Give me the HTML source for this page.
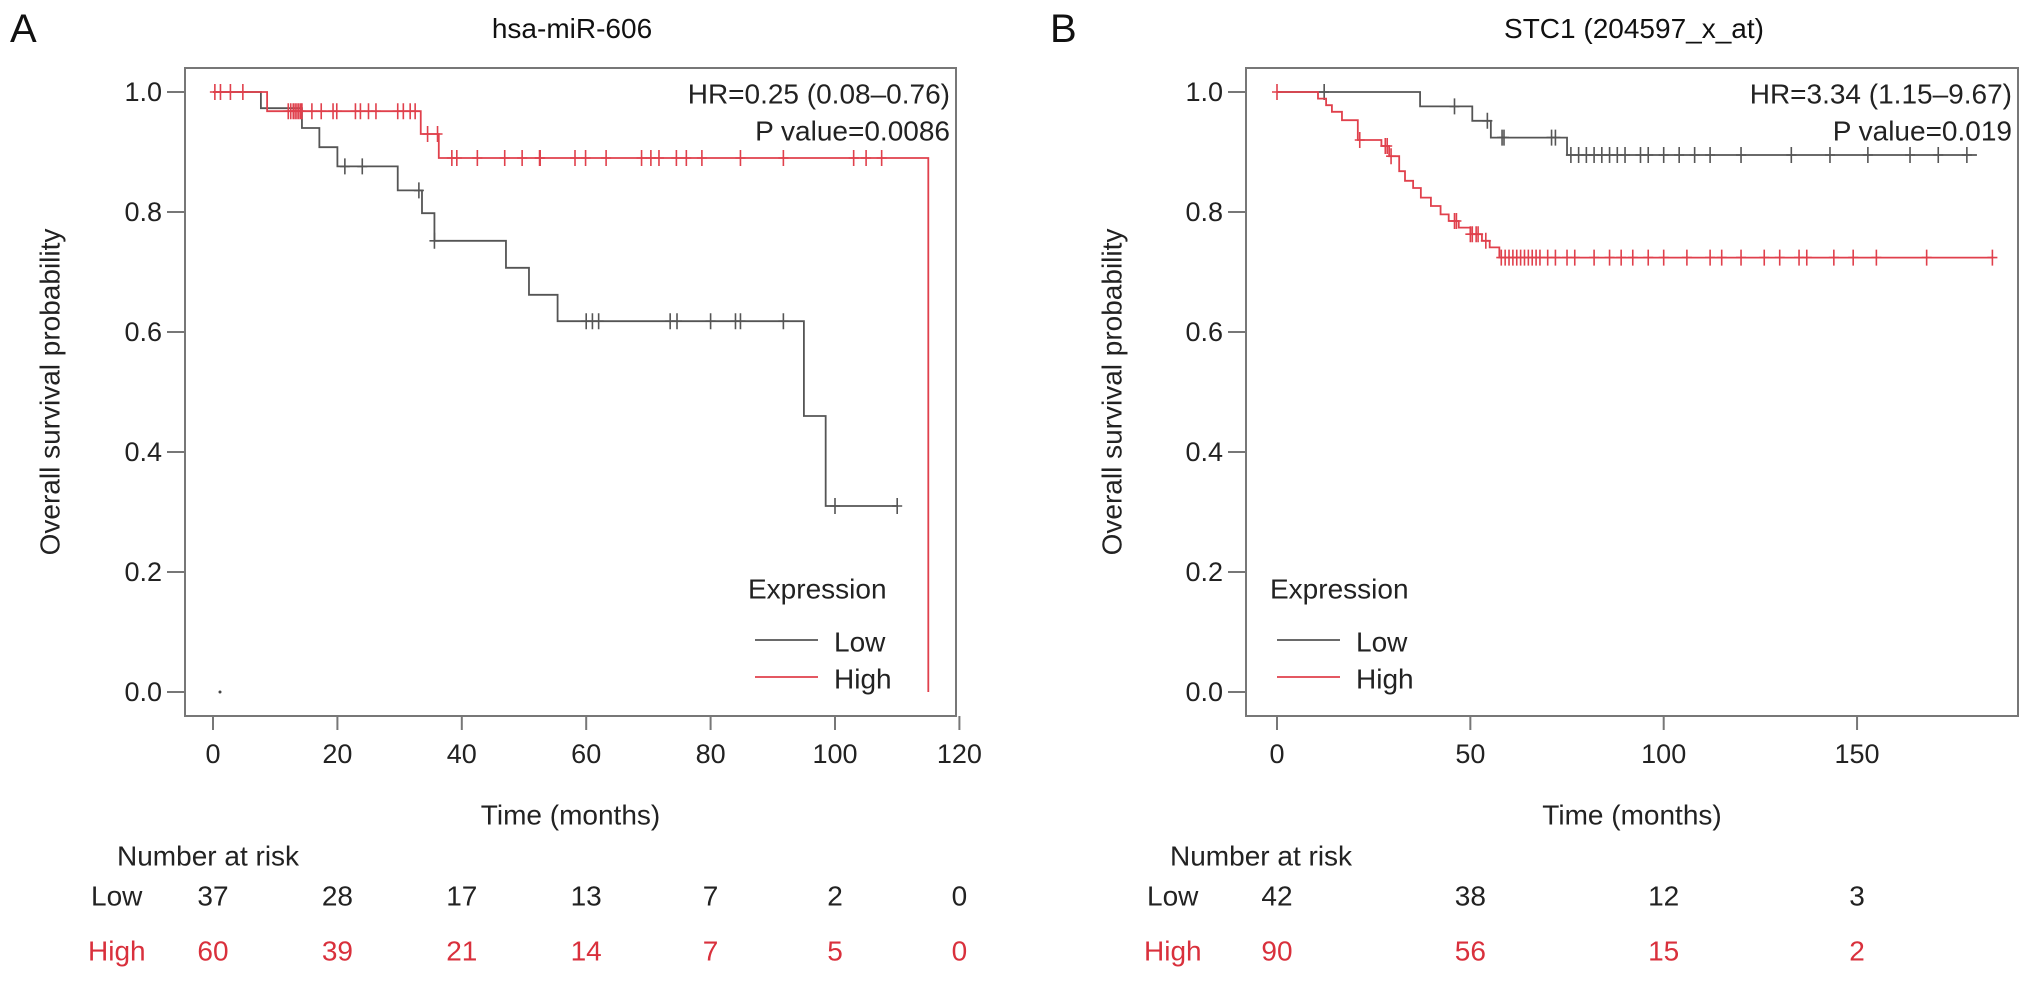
<!DOCTYPE html>
<html><head><meta charset="utf-8"><style>
html,body{margin:0;padding:0;background:#fff;}
svg{display:block;font-family:"Liberation Sans",Arial,sans-serif;}
</style></head><body>
<svg id="fig" width="2032" height="982" viewBox="0 0 2032 982">
<text x="10" y="42" font-size="40" fill="#111">A</text>
<text x="1050" y="42" font-size="40" fill="#111">B</text>
<text x="572" y="38" font-size="28" text-anchor="middle" fill="#111">hsa-miR-606</text>
<text x="1634" y="38" font-size="28" text-anchor="middle" fill="#111">STC1 (204597_x_at)</text>
<g id="left"></g>
<g id="right"></g>
</svg>
<script>
// ---------- Panel A data (hsa-miR-606) ----------
const aLowTimes = [7.7, 14.3, 17.1, 20, 29.7, 33.6, 35.6, 47.1, 50.8, 55.4, 95, 98.5];
const aLowSurv  = [0.973, 0.94, 0.908, 0.876, 0.836, 0.798, 0.752, 0.707, 0.662, 0.618, 0.46, 0.31];
const aLowEnd = 110;
const aLowCensor = [21.2, 24, 33.1, 35.6, 60, 61, 62, 73.5, 74.6, 80, 84, 84.8, 91.7, 100, 110];
const aHighTimes = [8.7, 33.4, 36.3, 115];
const aHighSurv  = [0.968, 0.93, 0.89, 0.0];
const aHighEnd = 115;
const aHighCensor = [0.3, 1.2, 2.8, 4.8, 12.1, 12.5, 12.9, 13.2, 13.5, 13.8, 14.1, 14.3, 15.9, 17.4, 19.3, 19.9, 22.9, 23.7, 25, 26.2, 29.7, 30.6, 31.7, 32.5, 34.5, 36.1, 38.4, 39.2, 42.5, 46.9, 49.7, 52.5, 52.6, 58.2, 59.9, 63.2, 68.9, 70.4, 71.7, 74.5, 76.1, 78.6, 84.8, 91.7, 103, 105, 107.5];
const aXTicks = [0, 20, 40, 60, 80, 100, 120];
const aRiskLow = ["37","28","17","13","7","2","0"];
const aRiskHigh = ["60","39","21","14","7","5","0"];

// ---------- Panel B data (STC1) ----------
const bLowTimes = [37, 50.5, 55.3, 75];
const bLowSurv  = [0.976, 0.952, 0.924, 0.895];
const bLowEnd = 181;
const bLowCensor = [12.2, 45.9, 54.4, 58.2, 58.7, 71, 72, 76, 78, 80, 82, 84, 86, 88, 90, 94, 96, 100, 104, 108, 112, 120, 133, 143, 152.8, 163.7, 171, 178.4];
const bHighTimes = [10.6, 12.7, 14.2, 16.8, 20.9, 27, 29, 31.6, 33.1, 35.2, 37.2, 39.8, 42.3, 44.4, 47, 50, 53, 55, 57.5];
const bHighSurv  = [0.989, 0.978, 0.967, 0.953, 0.92, 0.91, 0.893, 0.868, 0.852, 0.84, 0.824, 0.81, 0.796, 0.785, 0.774, 0.763, 0.752, 0.741, 0.724];
const bHighEnd = 185;
const bHighCensor = [0, 21.4, 28, 28.5, 29.5, 45.9, 46.4, 50, 50.5, 51.5, 52, 54, 58, 59, 60, 61, 62, 63, 64, 65, 66, 67, 68, 70, 72, 75, 77, 82, 86, 89, 92, 96, 100, 106, 112, 115, 120, 126, 130, 135, 137, 144, 149, 155, 168, 185];
const bXTicks = [0, 50, 100, 150];
const bRiskLow = ["42","38","12","3"];
const bRiskHigh = ["90","56","15","2"];

const yTicks = [0.0, 0.2, 0.4, 0.6, 0.8, 1.0];
const NS = "http://www.w3.org/2000/svg";
const GRAY = "#555", RED = "#e0404c", RISKRED = "#d9303c", AX = "#777";

function yScale(v){ return 692 - 600*v; }

function mk(g, tag, attrs){
  const e = document.createElementNS(NS, tag);
  for (const k in attrs) e.setAttribute(k, attrs[k]);
  g.appendChild(e); return e;
}
function txt(g, x, y, s, size, anchor, fill){
  const t = mk(g, "text", {x:x, y:y, "font-size":size, "text-anchor":anchor, fill:fill, "dominant-baseline":"central"});
  t.textContent = s; return t;
}
function survAt(times, surv, t){
  let v = 1;
  for (let i=0;i<times.length;i++){ if (times[i] <= t) v = surv[i]; }
  return v;
}
function stepPath(xs, times, surv, end){
  let d = "M" + xs(0) + "," + yScale(1);
  let v = 1;
  for (let i=0;i<times.length;i++){
    d += " H" + xs(times[i]) + " V" + yScale(surv[i]);
    v = surv[i];
  }
  d += " H" + xs(end);
  return d;
}

function panel(cfg){
  const g = document.getElementById(cfg.id);
  const xs = t => cfg.x0 + cfg.k*t;
  // box
  const box = mk(g, "rect", {x:cfg.bl, y:68, width:cfg.br-cfg.bl, height:716-68, fill:"none", stroke:AX, "stroke-width":2});
  
  
  // y ticks
  yTicks.forEach(v => {
    const l = mk(g, "line", {x1:cfg.bl-18, x2:cfg.bl, y1:yScale(v), y2:yScale(v), stroke:AX, "stroke-width":2});
    
    
    const t = txt(g, cfg.bl-23, yScale(v), v.toFixed(1), 27, "end", "#222");
    
    
  });
  // x ticks
  cfg.xticks.forEach(v => {
    const l = mk(g, "line", {x1:xs(v), x2:xs(v), y1:716, y2:730, stroke:AX, "stroke-width":2});
    
    
    const t = txt(g, xs(v), 754, String(v), 27, "middle", "#222");
    
    
  });
  // axis titles
  const yt = txt(g, 0, 0, "Overall survival probability", 28, "middle", "#222");
  yt.setAttribute("transform", "translate(" + cfg.ytx + ",392) rotate(-90)");
  
  
  const xt = txt(g, (cfg.bl+cfg.br)/2, 815, "Time (months)", 28, "middle", "#222");
  
  
  // curves
  const series = [
    {times:cfg.lowT, surv:cfg.lowS, end:cfg.lowE, cens:cfg.lowC, col:GRAY, name:"low"},
    {times:cfg.highT, surv:cfg.highS, end:cfg.highE, cens:cfg.highC, col:RED, name:"high"}
  ];
  series.forEach(s => {
    const p = mk(g, "path", {d:stepPath(xs, s.times, s.surv, s.end), fill:"none", stroke:s.col, "stroke-width":1.8});
    
    
    s.cens.forEach(t => {
      const y = yScale(survAt(s.times, s.surv, t));
      const c = mk(g, "path", {d:"M"+(xs(t)-5)+","+y+" H"+(xs(t)+5)+" M"+xs(t)+","+(y-8)+" V"+(y+8), stroke:s.col, "stroke-width":1.6, fill:"none"});
      
      
    });
  });
  // HR text
  const hr = txt(g, cfg.br-6, 94, cfg.hr, 28, "end", "#222");
  
  
  const pv = txt(g, cfg.br-6, 131, cfg.pv, 28, "end", "#222");
  
  
  // legend
  const lg = mk(g, "g", {});
  
  
  const lt = txt(lg, cfg.legX, 589, "Expression", 28, "start", "#222");
  
  
  [["Low", GRAY, 640], ["High", RED, 677]].forEach(e => {
    const l = mk(lg, "line", {x1:cfg.legX+7, x2:cfg.legX+70, y1:e[2], y2:e[2], stroke:e[1], "stroke-width":1.8});
    
    
    const t = txt(lg, cfg.legX+86, e[2]+2, e[0], 28, "start", "#222");
    
    
  });
  // risk table
  const nr = txt(g, cfg.nrX, 856, "Number at risk", 28, "start", "#222");
  
  
  const rl = txt(g, cfg.rowX, 896, "Low", 28, "start", "#222");
  
  
  const rh = txt(g, cfg.rowX-3, 951, "High", 28, "start", RISKRED);
  
  
  cfg.xticks.forEach((v, i) => {
    const a = txt(g, xs(v), 896, cfg.riskLow[i], 28, "middle", "#222");
    
    
    const b = txt(g, xs(v), 951, cfg.riskHigh[i], 28, "middle", RISKRED);
    
    
  });
}

panel({id:"left", x0:213, k:6.22, bl:185, br:956, ytx:50, xticks:aXTicks,
  lowT:aLowTimes, lowS:aLowSurv, lowE:aLowEnd, lowC:aLowCensor,
  highT:aHighTimes, highS:aHighSurv, highE:aHighEnd, highC:aHighCensor,
  hr:"HR=0.25 (0.08\u20130.76)", pv:"P value=0.0086", legX:748,
  nrX:117, rowX:91, riskLow:aRiskLow, riskHigh:aRiskHigh});
panel({id:"right", x0:1277, k:3.867, bl:1246, br:2018, ytx:1112, xticks:bXTicks,
  lowT:bLowTimes, lowS:bLowSurv, lowE:bLowEnd, lowC:bLowCensor,
  highT:bHighTimes, highS:bHighSurv, highE:bHighEnd, highC:bHighCensor,
  hr:"HR=3.34 (1.15\u20139.67)", pv:"P value=0.019", legX:1270,
  nrX:1170, rowX:1147, riskLow:bRiskLow, riskHigh:bRiskHigh});

// small stray dot near origin in panel A
const dot = mk(document.getElementById("left"), "circle", {cx:220, cy:692, r:1.5, fill:"#444"});


</script>
</body></html>
